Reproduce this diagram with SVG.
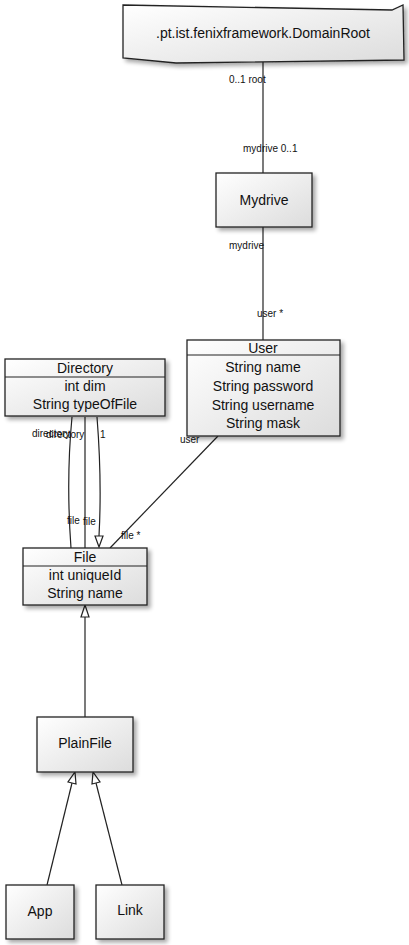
<svg xmlns="http://www.w3.org/2000/svg" width="409" height="945" viewBox="0 0 409 945">
<defs>
<linearGradient id="g" x1="0" y1="0" x2="1" y2="1">
<stop offset="0" stop-color="#ffffff"/>
<stop offset="1" stop-color="#dcdcdc"/>
</linearGradient>
<filter id="sh" x="-10%" y="-10%" width="130%" height="130%">
<feGaussianBlur in="SourceAlpha" stdDeviation="2"/>
<feOffset dx="3" dy="3" result="b"/>
<feComponentTransfer><feFuncA type="linear" slope="0.35"/></feComponentTransfer>
<feMerge><feMergeNode/><feMergeNode in="SourceGraphic"/></feMerge>
</filter>
</defs>
<style>
.box{fill:url(#g);stroke:#222;stroke-width:1.3;filter:url(#sh)}
.sep{stroke:#222;stroke-width:1.2;fill:none}
.t{font-family:"Liberation Sans",Arial,sans-serif;font-size:14px;fill:#111;text-anchor:middle}
.l{font-family:"Liberation Sans",Arial,sans-serif;font-size:10px;fill:#111}
.c{stroke:#222;stroke-width:1.2;fill:none}
.ah{fill:#fff;stroke:#222;stroke-width:1.2}
</style>

<g id="connectors">
<path class="c" d="M263 62 L263 173"/>
<text class="l" x="229" y="83">0..1 root</text>
<text class="l" x="243" y="152">mydrive 0..1</text>
<path class="c" d="M263 227 L263 340"/>
<text class="l" x="229" y="249">mydrive</text>
<text class="l" x="257" y="317">user *</text>
<path class="c" d="M72 417 Q66 480 71 548"/>
<path class="c" d="M85 417 L85 548"/>
<path class="c" d="M97 417 Q102 480 99 536"/>
<polygon class="ah" points="95,536 103,536 99,547"/>
<text class="l" x="32" y="437">directory</text>
<text class="l" x="46" y="438">directory</text>
<text class="l" x="100" y="438">1</text>
<text class="l" x="67" y="524">file</text>
<text class="l" x="83" y="525">file</text>
<path class="c" d="M218 436 L110 548"/>
<text class="l" x="180" y="443">user</text>
<text class="l" x="121" y="539">file *</text>
<path class="c" d="M85 717 L85 617"/>
<polygon class="ah" points="81,617 89,617 85,605"/>
<path class="c" d="M47 885 L72 783"/>
<polygon class="ah" points="68,782 76,784 75,772"/>
<path class="c" d="M122 885 L96 783"/>
<polygon class="ah" points="92,784 100,782 93,772"/>
</g>

<g id="domainroot">
<path class="box" d="M123 5 L392 10 L403 5 L404 60 L176 63 L123 58 Z"/>
<text class="t" x="263" y="38">.pt.ist.fenixframework.DomainRoot</text>
</g>

<g id="mydrive">
<rect class="box" x="216" y="173" width="96" height="54"/>
<text class="t" x="264" y="205">Mydrive</text>
</g>

<g id="user">
<rect class="box" x="187" y="340" width="153" height="96"/>
<path class="sep" d="M187 355 L340 355"/>
<text class="t" x="263" y="353">User</text>
<text class="t" x="263" y="372">String name</text>
<text class="t" x="263" y="391">String password</text>
<text class="t" x="263" y="410">String username</text>
<text class="t" x="263" y="428">String mask</text>
</g>

<g id="directory">
<rect class="box" x="5" y="359" width="160" height="57"/>
<path class="sep" d="M5 377 L165 377"/>
<text class="t" x="85" y="373">Directory</text>
<text class="t" x="85" y="391">int dim</text>
<text class="t" x="85" y="409">String typeOfFile</text>
</g>

<g id="file">
<rect class="box" x="23" y="548" width="124" height="57"/>
<path class="sep" d="M23 566 L147 566"/>
<text class="t" x="85" y="562">File</text>
<text class="t" x="85" y="580">int uniqueId</text>
<text class="t" x="85" y="598">String name</text>
</g>

<g id="plainfile">
<rect class="box" x="37" y="717" width="96" height="55"/>
<text class="t" x="85" y="748">PlainFile</text>
</g>

<g id="app">
<rect class="box" x="6" y="885" width="68" height="54"/>
<text class="t" x="40" y="916">App</text>
</g>

<g id="link">
<rect class="box" x="96" y="885" width="68" height="54"/>
<text class="t" x="130" y="915">Link</text>
</g>
</svg>
